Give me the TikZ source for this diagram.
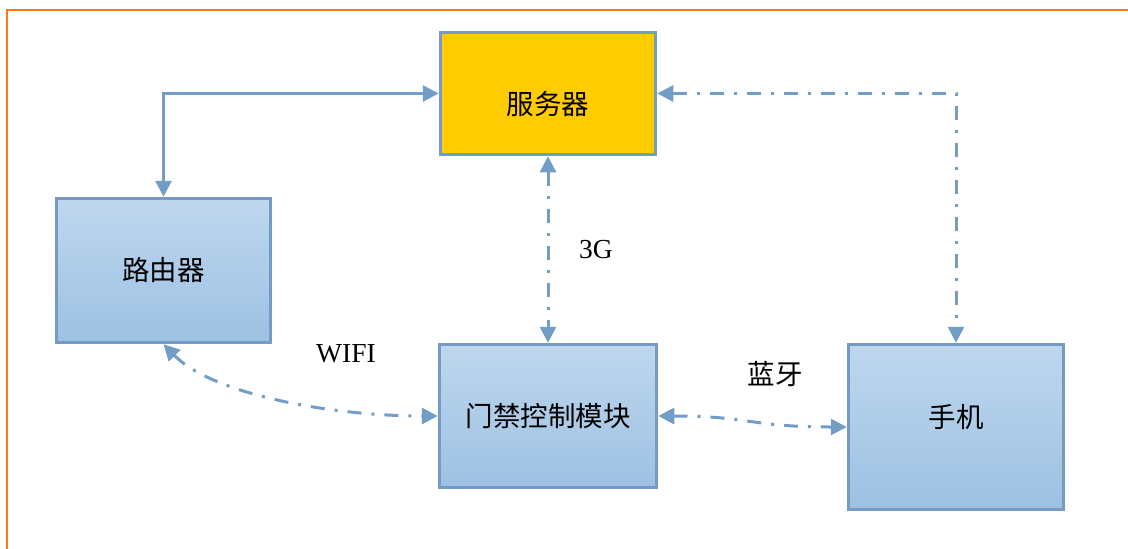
\documentclass[tikz,border=0pt]{standalone}
\usepackage{fontspec}
\setmainfont{Liberation Serif}
\newfontfamily\cjk{Noto Sans CJK SC}
\usetikzlibrary{arrows.meta}
\definecolor{lineblue}{RGB}{114,157,198}
\definecolor{boxborder}{RGB}{117,155,196}
\definecolor{boxtop}{RGB}{190,215,238}
\definecolor{boxbot}{RGB}{157,193,226}
\definecolor{servfill}{RGB}{255,204,0}
\definecolor{frameorange}{RGB}{255,120,25}
\tikzset{
  box/.style={draw=boxborder, line width=3.5pt, inner sep=0pt, rectangle},
  bluebox/.style={box, top color=boxtop, bottom color=boxbot},
  cjklabel/.style={font=\cjk\fontsize{27.5}{30}\selectfont},
  latlabel/.style={font=\fontsize{27.5}{30}\selectfont},
  conn/.style={draw=lineblue, line width=3pt, {Triangle[length=16pt,width=16pt]}-{Triangle[length=16pt,width=16pt]}},
  dashdot/.style={conn, dash pattern=on 14pt off 10pt on 3pt off 10pt}
}
\begin{document}
\begin{tikzpicture}[x=1pt,y=-1pt]
\useasboundingbox (0,0) rectangle (1128,549);
\begin{scope}
\clip (0,0) rectangle (1128,549);
\draw[frameorange, line width=2pt] (6.5,9.5) rectangle (1140,560);
\end{scope}
% boxes
\node[box, fill=servfill, minimum width=215pt, minimum height=122pt,
  label={[cjklabel, yshift=-11pt]center:服务器}] (server) at (548,93.5) {};
\node[bluebox, minimum width=214pt, minimum height=144pt,
  label={[cjklabel]center:路由器}] (router) at (163.5,270.5) {};
\node[bluebox, minimum width=217pt, minimum height=143pt,
  label={[cjklabel]center:门禁控制模块}] (door) at (548,416) {};
\node[bluebox, minimum width=215pt, minimum height=165pt,
  label={[cjklabel, yshift=10pt]center:手机}] (phone) at (956,427) {};
% connectors
\draw[conn] (router.north) |- (server.west);
\draw[dashdot] (server.south) -- (door.north);
\draw[dashdot] (server.east) -| (phone.north);
\draw[dashdot] (router.south) .. controls (212,394) and (330,416) .. (door.west);
\draw[dashdot] (door.east) .. controls (750,416) and (750,427) .. (phone.west);
% labels
\node[latlabel] (l3g) at (596,250) {3G};
\node[latlabel] (lwifi) at (346,354) {WIFI};
\node[cjklabel] (lbt) at (775,374) {蓝牙};
\end{tikzpicture}
\end{document}
